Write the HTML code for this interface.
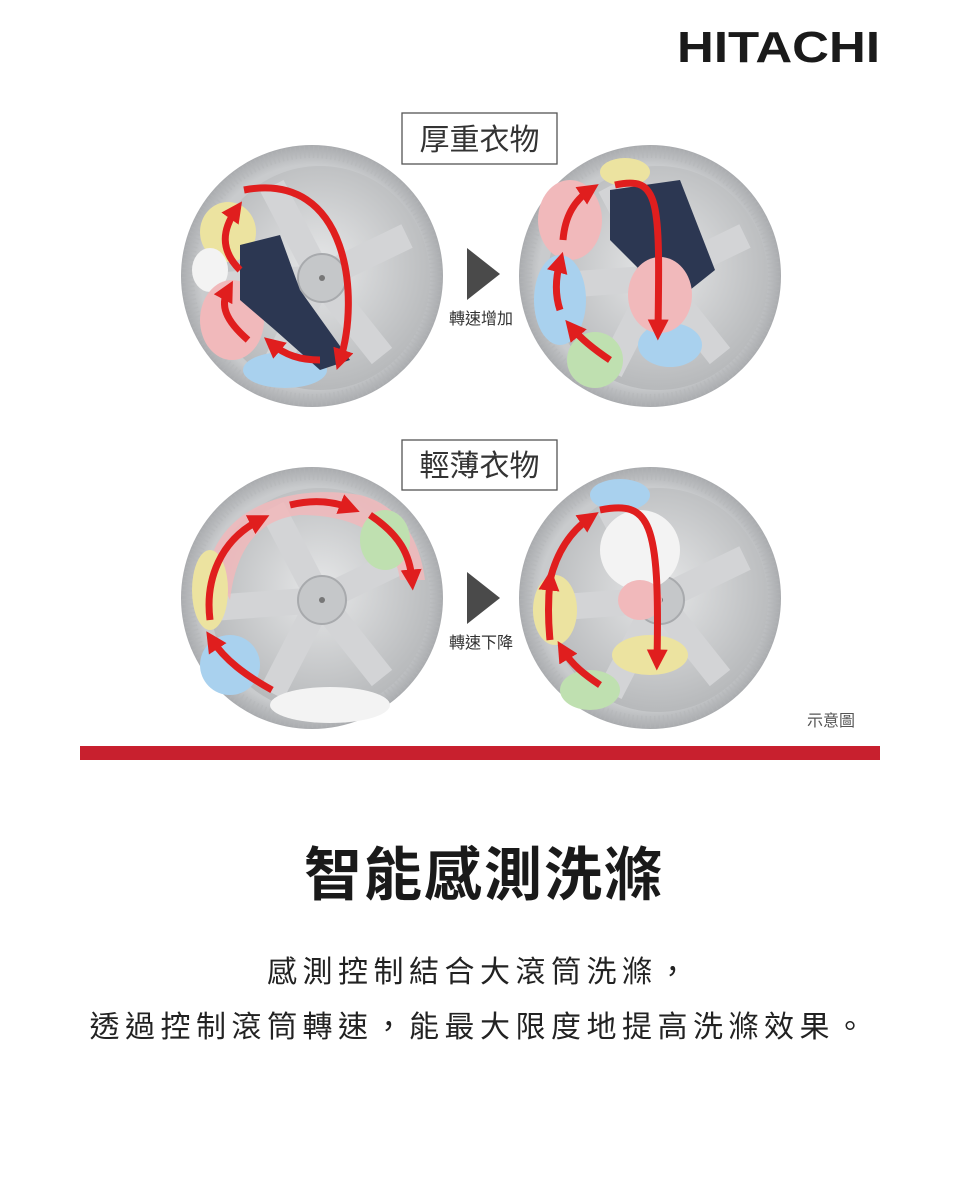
<!DOCTYPE html>
<html><head><meta charset="utf-8"><style>
html,body{margin:0;padding:0;background:#fff;width:960px;height:1199px;overflow:hidden}
svg{display:block}
</style></head><body>
<svg width="960" height="1199" viewBox="0 0 960 1199" xmlns="http://www.w3.org/2000/svg" font-family="'Liberation Sans','Noto Sans CJK TC',sans-serif">
<defs>
<radialGradient id="ring" cx="50%" cy="50%" r="50%">
<stop offset="85%" stop-color="#c9cbcd"/><stop offset="100%" stop-color="#a9abae"/></radialGradient>
<radialGradient id="inner" cx="50%" cy="45%" r="55%">
<stop offset="0%" stop-color="#e6e7e8"/><stop offset="100%" stop-color="#b7b9bb"/></radialGradient>
<marker id="ah" viewBox="0 0 10 10" refX="5" refY="5" markerWidth="3" markerHeight="3" orient="auto-start-reverse"><path d="M0,0 L10,5 L0,10 z" fill="#e01e1e"/></marker>
<g id="drum">
<ellipse cx="0" cy="0" rx="131" ry="131" fill="url(#ring)"/>
<circle cx="0" cy="0" r="124" fill="none" stroke="#b3b5b8" stroke-width="12" stroke-dasharray="1.5 3" opacity="0.5"/>
<ellipse cx="8" cy="2" rx="110" ry="112" fill="url(#inner)"/>
<path d="M8,2 L-40,-90 M8,2 L95,-40 M8,2 L70,80 M8,2 L-40,95 M8,2 L-100,10" stroke="#d3d4d6" stroke-width="26"/>
<circle cx="10" cy="2" r="24" fill="#c5c7c9" stroke="#a8aaad" stroke-width="2"/>
<circle cx="10" cy="2" r="3" fill="#777"/>
</g>
</defs>
<text x="677" y="62" font-size="44" font-weight="bold" fill="#1a1a1a" textLength="203" lengthAdjust="spacingAndGlyphs">HITACHI</text>

<use href="#drum" x="312" y="276"/>
<use href="#drum" x="650" y="276"/>
<ellipse cx="228" cy="232" rx="28" ry="30" fill="#ece3a0"/>
<ellipse cx="210" cy="270" rx="18" ry="22" fill="#f3f3f3"/>
<ellipse cx="232" cy="320" rx="32" ry="40" fill="#f1b9bb"/>
<ellipse cx="285" cy="370" rx="42" ry="18" fill="#a9d1ee"/>
<path d="M240,245 L280,235 L300,290 L350,360 L320,370 L275,330 L240,300z" fill="#2c3752"/>
<ellipse cx="570" cy="220" rx="32" ry="40" fill="#f1b9bb"/>
<ellipse cx="560" cy="300" rx="26" ry="45" fill="#a9d1ee"/>
<ellipse cx="595" cy="360" rx="28" ry="28" fill="#bfe0b0"/>
<ellipse cx="670" cy="345" rx="32" ry="22" fill="#a9d1ee"/>
<ellipse cx="625" cy="172" rx="25" ry="14" fill="#ece3a0"/>
<path d="M610,190 L680,180 L715,270 L690,290 L640,270 L610,240z" fill="#2c3752"/>
<ellipse cx="660" cy="295" rx="32" ry="38" fill="#f1b9bb"/>
<path d="M244,190 C350,170 360,300 340,360" fill="none" stroke="#e01e1e" stroke-width="7" marker-end="url(#ah)"/>
<path d="M240,270 C220,250 222,230 236,210" fill="none" stroke="#e01e1e" stroke-width="7" marker-end="url(#ah)"/>
<path d="M248,340 C225,320 220,305 228,290" fill="none" stroke="#e01e1e" stroke-width="7" marker-end="url(#ah)"/>
<path d="M320,360 C300,360 285,355 272,344" fill="none" stroke="#e01e1e" stroke-width="7" marker-end="url(#ah)"/>
<path d="M615,185 C660,175 660,200 658,330" fill="none" stroke="#e01e1e" stroke-width="7" marker-end="url(#ah)"/>
<path d="M563,240 C565,215 575,200 590,190" fill="none" stroke="#e01e1e" stroke-width="7" marker-end="url(#ah)"/>
<path d="M560,310 C555,295 555,280 560,262" fill="none" stroke="#e01e1e" stroke-width="7" marker-end="url(#ah)"/>
<path d="M610,360 C595,350 582,340 572,328" fill="none" stroke="#e01e1e" stroke-width="7" marker-end="url(#ah)"/>

<rect x="402" y="113" width="155" height="51" fill="#fff" stroke="#555" stroke-width="1.3"/>
<text x="479.5" y="150" text-anchor="middle" font-size="30" fill="#333">厚重衣物</text>
<polygon points="467,248 500,274 467,300" fill="#4a4a4a"/>
<text x="481" y="324" text-anchor="middle" font-size="16" fill="#333">轉速增加</text>

<use href="#drum" x="312" y="598"/>
<use href="#drum" x="650" y="598"/>
<path d="M210,560 C230,500 300,485 360,495 C400,505 420,540 425,580 L400,580 C395,540 360,515 300,515 C250,520 235,560 230,600z" fill="#f1b9bb" opacity="0.85"/>
<ellipse cx="385" cy="540" rx="25" ry="30" fill="#bfe0b0"/>
<ellipse cx="210" cy="590" rx="18" ry="40" fill="#ece3a0"/>
<ellipse cx="230" cy="665" rx="30" ry="30" fill="#a9d1ee"/>
<ellipse cx="330" cy="705" rx="60" ry="18" fill="#f3f3f3"/>
<ellipse cx="620" cy="495" rx="30" ry="16" fill="#a9d1ee"/>
<ellipse cx="640" cy="550" rx="40" ry="40" fill="#f3f3f3"/>
<ellipse cx="640" cy="600" rx="22" ry="20" fill="#f1b9bb"/>
<ellipse cx="650" cy="655" rx="38" ry="20" fill="#ece3a0"/>
<ellipse cx="555" cy="610" rx="22" ry="35" fill="#ece3a0"/>
<ellipse cx="590" cy="690" rx="30" ry="20" fill="#bfe0b0"/>
<path d="M210,620 C205,580 220,540 260,520" fill="none" stroke="#e01e1e" stroke-width="7" marker-end="url(#ah)"/>
<path d="M290,505 C310,500 330,500 350,508" fill="none" stroke="#e01e1e" stroke-width="7" marker-end="url(#ah)"/>
<path d="M370,515 C400,535 410,555 412,580" fill="none" stroke="#e01e1e" stroke-width="7" marker-end="url(#ah)"/>
<path d="M272,690 C245,675 225,660 212,640" fill="none" stroke="#e01e1e" stroke-width="7" marker-end="url(#ah)"/>
<path d="M600,510 C650,500 660,520 657,660" fill="none" stroke="#e01e1e" stroke-width="7" marker-end="url(#ah)"/>
<path d="M550,580 C555,560 565,535 590,518" fill="none" stroke="#e01e1e" stroke-width="7" marker-end="url(#ah)"/>
<path d="M550,640 C548,620 548,600 550,580" fill="none" stroke="#e01e1e" stroke-width="7" marker-end="url(#ah)"/>
<path d="M600,685 C585,675 572,665 563,650" fill="none" stroke="#e01e1e" stroke-width="7" marker-end="url(#ah)"/>

<rect x="402" y="440" width="155" height="50" fill="#fff" stroke="#555" stroke-width="1.3"/>
<text x="479.5" y="476" text-anchor="middle" font-size="30" fill="#333">輕薄衣物</text>
<polygon points="467,572 500,598 467,624" fill="#4a4a4a"/>
<text x="481" y="648" text-anchor="middle" font-size="16" fill="#333">轉速下降</text>
<text x="855" y="726" text-anchor="end" font-size="16" fill="#555">示意圖</text>

<rect x="80" y="746" width="800" height="14" fill="#c8202e"/>
<text x="484" y="895" text-anchor="middle" font-size="58" font-weight="bold" fill="#1a1a1a" letter-spacing="2">智能感測洗滌</text>
<text x="480" y="982" text-anchor="middle" font-size="30" fill="#222" letter-spacing="5.5">感測控制結合大滾筒洗滌，</text>
<text x="480" y="1037" text-anchor="middle" font-size="30" fill="#222" letter-spacing="5.5">透過控制滾筒轉速，能最大限度地提高洗滌效果。</text>
</svg>
</body></html>
